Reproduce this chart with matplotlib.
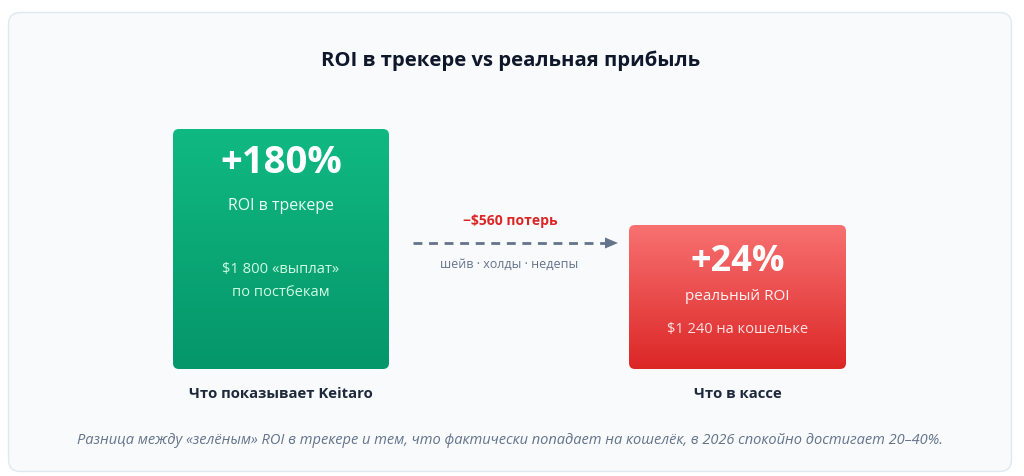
import matplotlib
matplotlib.use("Agg")
import matplotlib.pyplot as plt
import numpy as np
from matplotlib.patches import FancyBboxPatch
from matplotlib.colors import LinearSegmentedColormap

plt.rcParams['font.family'] = ['Open Sans', 'Noto Sans', 'DejaVu Sans']

# ---- data ----
title = "ROI в трекере vs реальная прибыль"
categories = ["Что показывает Keitaro", "Что в кассе"]
roi_values = [180, 24]                 # %
roi_labels = ["ROI в трекере", "реальный ROI"]
money_values = [1800, 1240]            # $
money_labels = ["«выплат»\nпо постбекам", "на кошельке"]
loss_value = 560
loss_reasons = ["шейв", "холды", "недепы"]
footnote = ("Разница между «зелёным» ROI в трекере и тем, что фактически попадает "
            "на кошелёк, в 2026 спокойно достигает 20–40%.")

W, H = 1024, 476
fig = plt.figure(figsize=(W / 100, H / 100), dpi=100)
fig.patch.set_facecolor("white")
ax = fig.add_axes([0, 0, 1, 1])
ax.set_xlim(0, W)
ax.set_ylim(H, 0)
ax.axis("off")

# outer card
card = FancyBboxPatch((8.5, 12.5), 1003, 459, boxstyle="round,pad=0,rounding_size=12",
                      facecolor="#f8fafc", edgecolor="#e2e8f0", linewidth=1)
ax.add_patch(card)

ax.text(511, 61, title, ha="center", va="center", fontsize=14.6,
        fontweight="bold", color="#0f172a")

def fmt_money(v):
    return "$" + f"{v:,}".replace(",", "\u00a0")

def grad_box(x0, y0, w, h, c_top, c_bot):
    cmap = LinearSegmentedColormap.from_list("g", [c_top, c_bot])
    grad = np.linspace(0, 1, 256).reshape(-1, 1)
    im = ax.imshow(grad, cmap=cmap, extent=(x0, x0 + w, y0 + h, y0),
                   aspect="auto", zorder=2, interpolation="bicubic")
    clip = FancyBboxPatch((x0, y0), w, h, boxstyle="round,pad=0,rounding_size=6",
                          facecolor="none", edgecolor="none", transform=ax.transData)
    ax.add_patch(clip)
    im.set_clip_path(clip)

# green box (tracker)
gx, gy, gw, gh = 173, 129, 216, 240
grad_box(gx, gy, gw, gh, "#10b981", "#059669")
cx = gx + gw / 2
ax.text(cx, 163, f"+{roi_values[0]}%", ha="center", va="center", fontsize=27.5,
        fontweight="bold", color="white", zorder=3)
ax.text(cx, 206, roi_labels[0], ha="center", va="center", fontsize=11.4,
        color="#ecfdf5", zorder=3)
ax.text(cx, 281, fmt_money(money_values[0]) + " " + money_labels[0], ha="center",
        va="center", fontsize=10.6, color="#d1fae5", linespacing=1.75, zorder=3)
ax.text(cx, 394, categories[0], ha="center", va="center", fontsize=10.7,
        fontweight="bold", color="#1e293b")

# red box (real)
rx, ry, rw, rh = 629, 225, 217, 144
grad_box(rx, ry, rw, rh, "#f87171", "#dc2626")
cx2 = rx + rw / 2
ax.text(cx2, 262, f"+{roi_values[1]}%", ha="center", va="center", fontsize=26,
        fontweight="bold", color="white", zorder=3)
ax.text(cx2, 296, roi_labels[1], ha="center", va="center", fontsize=11,
        color="#fef2f2", zorder=3)
ax.text(cx2, 330, fmt_money(money_values[1]) + " " + money_labels[1], ha="center",
        va="center", fontsize=10.5, color="#fee2e2", zorder=3)
ax.text(cx2, 394, categories[1], ha="center", va="center", fontsize=10.7,
        fontweight="bold", color="#1e293b")

# arrow
ax.plot([413, 606], [243, 243], color="#64748b", lw=2, linestyle=(0, (3.2, 2.4)),
        solid_capstyle="butt", dash_capstyle="butt")
ax.fill([605, 618, 605], [237.5, 243, 248.5], color="#64748b", lw=0)
ax.text(510, 221, "\u2212" + fmt_money(loss_value) + " потерь", ha="center",
        va="center", fontsize=10, fontweight="bold", color="#dc2626")
ax.text(509, 264, " · ".join(loss_reasons), ha="center", va="center",
        fontsize=9, color="#64748b")

ax.text(510, 441, footnote, ha="center", va="center", fontsize=10.55,
        style="italic", color="#64748b")

fig.savefig("out.png", dpi=100, facecolor="white")
